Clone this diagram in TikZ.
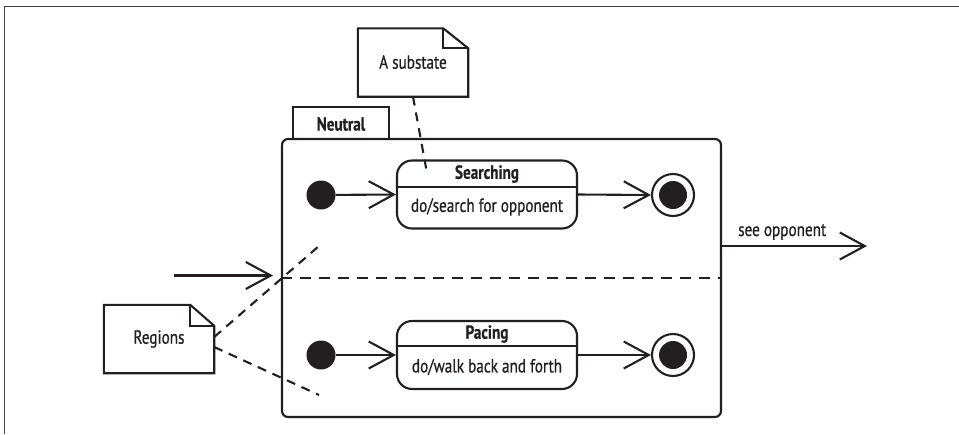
\documentclass[tikz,border=0pt]{standalone}
\usepackage{fontspec}
\setmainfont[FakeStretch=0.8, UprightFeatures={FakeBold=0.7}, BoldFeatures={FakeBold=0.4}]{PT Sans}
\usetikzlibrary{arrows.meta}
\definecolor{ink}{HTML}{231F20}
\tikzset{
  ln/.style={draw=ink, line width=2.1pt},
  arr/.style={ln, -{Straight Barb[length=25pt,width=27pt,line width=2.1pt]}},
  dsh/.style={ln, dash pattern=on 9pt off 7pt},
  lbl/.style={inner sep=0pt, font=\fontsize{19}{22}\selectfont, text=ink},
  blbl/.style={lbl, font=\fontsize{19}{22}\selectfont\bfseries},
  statebox/.style={ln, rounded corners=15pt, minimum width=180pt, minimum height=68pt, inner sep=0pt},
  initst/.style={circle, fill=ink, minimum size=29pt, inner sep=0pt},
  finout/.style={circle, ln, minimum size=42pt, inner sep=0pt},
  finin/.style={circle, fill=ink, minimum size=28pt, inner sep=0pt},
  notebox/.style={minimum width=110pt, minimum height=68pt, inner sep=0pt},
}
\begin{document}
\begin{tikzpicture}[x=1pt,y=-1pt]
\useasboundingbox (0,0) rectangle (959,434);
% outer frame (left and top only)
\draw[draw=ink!85, line width=1.3pt] (4.5,434) -- (4.5,6.5) -- (959,6.5);

% composite state Neutral
\node[ln, minimum width=96pt, minimum height=32pt, inner sep=0pt] (tab) at (341,123) {};
\node[blbl] (tabtxt) at (341,124) {Neutral};
\node[ln, rounded corners=6pt, minimum width=439pt, minimum height=278pt, inner sep=0pt] (box) at (501.5,278) {};
\draw[dsh, dash pattern=on 11pt off 8pt] (box.west) -- (box.east);

% region 1
\node[initst] (i1) at (321,195) {};
\node[statebox] (S) at (487,194.5) {};
\draw[ln] ([yshift=7.5pt]S.west) -- ([yshift=7.5pt]S.east);
\node[blbl] (Stitle) at (487,174) {Searching};
\node[lbl] (Sact) at (487,207) {do/search for opponent};
\node[finout] (f1o) at (673,195) {};
\node[finin] (f1) at (673,195) {};
\draw[arr] (i1) -- (S.west);
\draw[arr] (S.east) -- (f1o.west);

% region 2
\node[initst] (i2) at (321,355) {};
\node[statebox] (P) at (487,355) {};
\draw[ln] ([yshift=9pt]P.west) -- ([yshift=9pt]P.east);
\node[blbl] (Ptitle) at (487,334) {Pacing};
\node[lbl] (Pact) at (487,367) {do/walk back and forth};
\node[finout] (f2o) at (673,355) {};
\node[finin] (f2) at (673,355) {};
\draw[arr] (i2) -- (P.west);
\draw[arr] (P.east) -- (f2o.west);

% outgoing transition
\coordinate (outStart) at (box.east |- 0,246);
\coordinate (outEnd) at (867,246);
\draw[arr] (outStart) -- (outEnd);
\node[lbl, anchor=south west] (outlbl) at (738,240) {see opponent};

% incoming transition
\coordinate (inStart) at (174,275.5);
\coordinate (inEnd) at (273,275.5);
\draw[arr] (inStart) -- (inEnd);

% note: A substate
\node[notebox] (sub) at (413,62.5) {};
\draw[ln, line join=miter] (sub.south west) -- (sub.north west) -- ([xshift=-25pt]sub.north east) -- ([yshift=-20pt]sub.north east) -- (sub.south east) -- cycle;
\draw[ln, line join=miter] ([xshift=-25pt]sub.north east) |- ([yshift=-20pt]sub.north east);
\node[lbl] (subtxt) at (413,62) {A substate};
\coordinate (subEnd) at (427,173);
\draw[dsh] (sub.south) -- (subEnd);

% note: Regions
\node[notebox] (reg) at (159,339) {};
\draw[ln, line join=miter] (reg.south west) -- (reg.north west) -- ([xshift=-24pt]reg.north east) -- ([yshift=-21pt]reg.north east) -- (reg.south east) -- cycle;
\draw[ln, line join=miter] ([xshift=-24pt]reg.north east) |- ([yshift=-21pt]reg.north east);
\node[lbl] (regtxt) at (159,339) {Regions};
\coordinate (regA) at (319,246);
\coordinate (regB) at (319,395);
\draw[dsh] ([yshift=2pt]reg.east) -- (regA);
\draw[dsh] ([yshift=-8pt]reg.east) -- (regB);
\end{tikzpicture}
\end{document}
